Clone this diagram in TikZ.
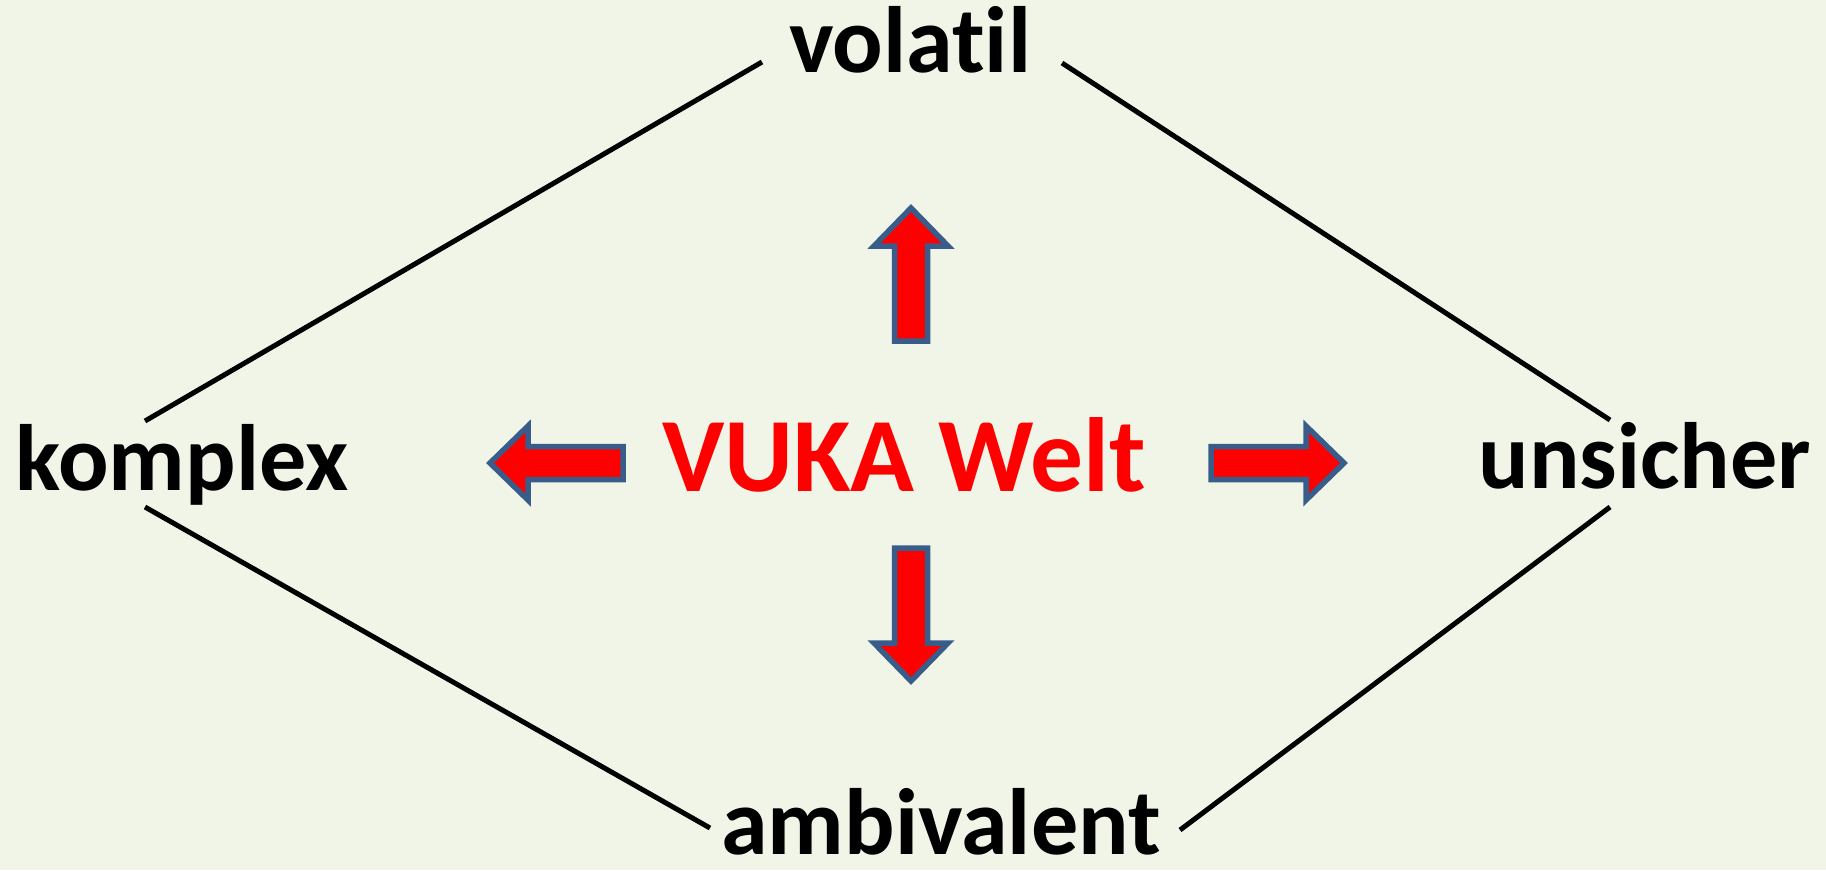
\documentclass[tikz,border=0pt]{standalone}
\usepackage{fontspec}
\setmainfont{Carlito}[Ligatures=NoCommon]
\definecolor{bgcol}{HTML}{F1F5E8}
\definecolor{arrowblue}{HTML}{385D8A}

\begin{document}
\begin{tikzpicture}[x=0.1mm,y=-0.1mm]
  \tikzset{WordStyle/.style = {
  font = \fontsize{26.8}{30}\selectfont\bfseries,
  anchor = base,
  inner sep = 0pt},
  ArrowStyle/.style = {
  fill = red,
  draw = arrowblue,
  line width = 0.55mm,
  line join = miter},
  pics/vukapfeil/.style = {code = {
  \draw[ArrowStyle] (0,-16.5) -- (95,-16.5) -- (95,-37) -- (133,0)
    -- (95,37) -- (95,16.5) -- (0,16.5) -- cycle;}}}
  \fill[bgcol] (0,0) rectangle (1826,870);
  % the four words
  \node[WordStyle] (volatil) at (910,72) {volatil};
  \node[WordStyle] (komplex) at (182,490) {komplex};
  \node[WordStyle] (unsicher) at (1645,488) {unsicher};
  \node[WordStyle] (ambivalent) at (941,854) {ambivalent};
  \node[WordStyle, text=red, font=\fontsize{30}{34}\selectfont\bfseries] (vuka) at (904,491) {VUKA Welt};
  % arrows out of the middle
  \pic[rotate=90] at (911,341) {vukapfeil};
  \pic[rotate=-90] at (911,548) {vukapfeil};
  \pic[rotate=180] at (623,463) {vukapfeil};
  \pic at (1211,463) {vukapfeil};
  % ends of the diamond lines
  \coordinate (vl) at (762,62);
  \coordinate (vr) at (1062,63);
  \coordinate (kt) at (145,421);
  \coordinate (kb) at (145,507);
  \coordinate (ut) at (1610,420);
  \coordinate (ub) at (1610,507);
  \coordinate (al) at (710,828);
  \coordinate (ar) at (1180,830);
  \draw[line width=0.5mm] (vl) -- (kt);
  \draw[line width=0.5mm] (vr) -- (ut);
  \draw[line width=0.5mm] (kb) -- (al);
  \draw[line width=0.5mm] (ub) -- (ar);
\end{tikzpicture}
\end{document}
